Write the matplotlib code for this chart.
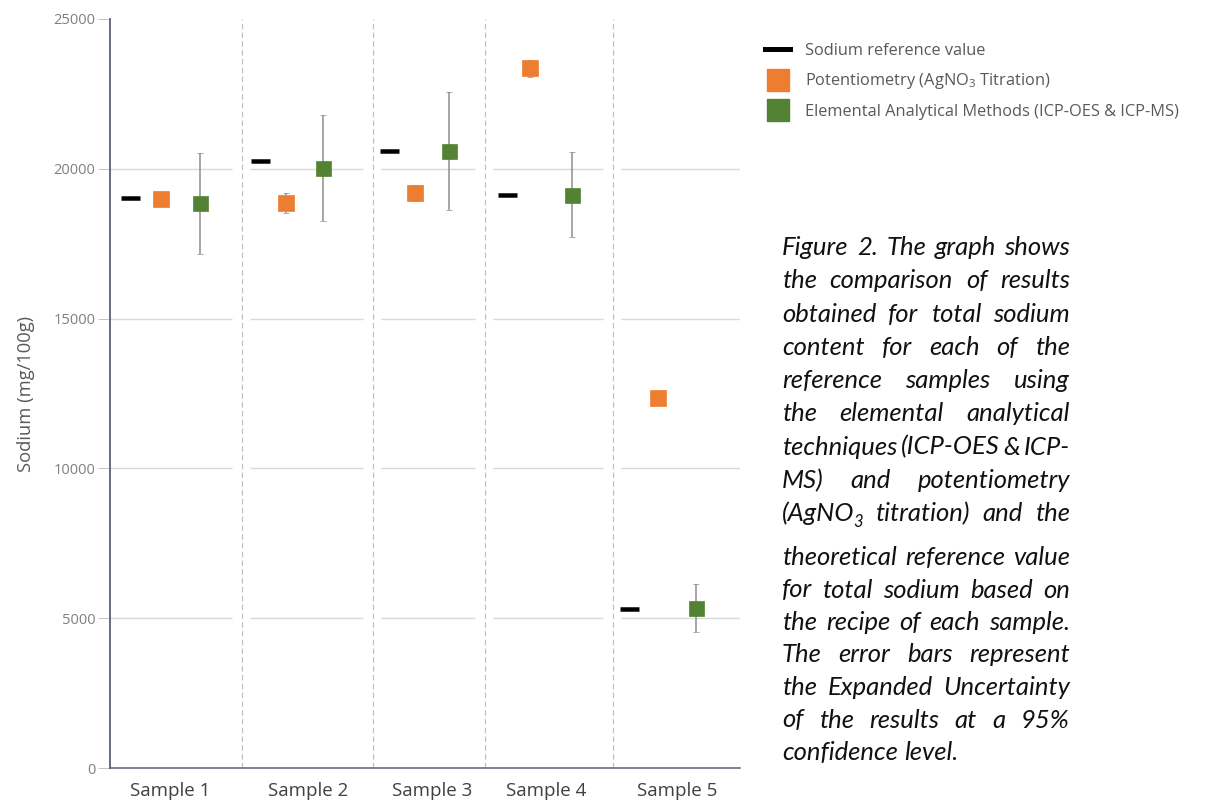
import matplotlib
matplotlib.use("Agg")
import matplotlib.pyplot as plt
from matplotlib.lines import Line2D
from matplotlib.font_manager import FontProperties

# ---------------- data ----------------
samples = ["Sample 1", "Sample 2", "Sample 3", "Sample 4", "Sample 5"]
reference_value = [19030, 20270, 20610, 19110, 5320]
potentiometry = [18990, 18860, 19200, 23360, 12350]
potentiometry_err = [200, 330, 260, 280, 150]
elemental = [18850, 20020, 20590, 19140, 5350]
elemental_err = [1680, 1760, 1980, 1420, 800]
y_ticks = [0, 5000, 10000, 15000, 20000, 25000]

legend_labels = ["Sodium reference value",
                 "Potentiometry (AgNO$_3$ Titration)",
                 "Elemental Analytical Methods (ICP-OES & ICP-MS)"]

caption_lines = [
    "Figure 2. The graph shows",
    "the comparison of results",
    "obtained for total sodium",
    "content for each of the",
    "reference samples using",
    "the elemental analytical",
    "techniques (ICP-OES & ICP-",
    "MS) and potentiometry",
    "(AgNO| titration) and the",
    "theoretical reference value",
    "for total sodium based on",
    "the recipe of each sample.",
    "The error bars represent",
    "the Expanded Uncertainty",
    "of the results at a 95%",
    "confidence level.",
]

# ---------------- layout (pixel-like x units within the axes) ----------------
W, H = 1209, 801
group_edges = [0, 132, 263, 375, 503, 630]
tick_pos = [60, 198, 322, 436, 567]
ref_off = [0.15, 0.137, 0.14, 0.17, 0.126]
pot_off = [0.386, 0.333, 0.375, 0.35, 0.354]
ele_off = [0.68, 0.62, 0.68, 0.68, 0.65]

def group_x(offsets):
    return [group_edges[i] + offsets[i] * (group_edges[i + 1] - group_edges[i])
            for i in range(len(offsets))]

plt.rcParams["font.family"] = ["Open Sans", "DejaVu Sans"]
plt.rcParams["mathtext.fontset"] = "custom"
plt.rcParams["mathtext.rm"] = "Open Sans"
plt.rcParams["mathtext.it"] = "Open Sans:italic"

fig = plt.figure(figsize=(W / 100, H / 100), dpi=100)
ax = fig.add_axes([110 / W, (H - 768) / H, (740 - 110) / W, (768 - 19) / H])
ax.set_xlim(group_edges[0], group_edges[-1])
ax.set_ylim(0, 25000)

px = 72 / 100  # points per pixel

# gridlines per group with gaps near separators
for yv in y_ticks[1:-1]:
    for i in range(len(samples)):
        x0 = group_edges[i] + (8 if i > 0 else 0)
        x1 = group_edges[i + 1] - (10 if i < len(samples) - 1 else 0)
        ax.hlines(yv, x0, x1, color="#d9d9d9", lw=1.4 * px, zorder=0)

# dashed separators
for e in group_edges[1:-1]:
    ax.axvline(e, color="#bdbdbd", lw=1.1 * px, dashes=(5, 3), zorder=0)

# reference values
ax.plot(group_x(ref_off), reference_value, ls="none", marker="_",
        ms=19 * px, mew=4.5 * px, color="black", zorder=3)
# potentiometry
ax.errorbar(group_x(pot_off), potentiometry, yerr=potentiometry_err, fmt="s",
            ms=16 * px, mfc="#ED7D31", mec="#ED7D31", mew=0.5,
            ecolor="#8c8c8c", elinewidth=1.5 * px, capsize=3 * px,
            capthick=1.5 * px, zorder=3)
# elemental
ax.errorbar(group_x(ele_off), elemental, yerr=elemental_err, fmt="s",
            ms=15 * px, mfc="#548235", mec="#548235", mew=0.5,
            ecolor="#8c8c8c", elinewidth=1.5 * px, capsize=3.3 * px,
            capthick=1.5 * px, zorder=3)

# axes styling
for s in ["top", "right"]:
    ax.spines[s].set_visible(False)
ax.spines["left"].set_color("#56606e")
ax.spines["left"].set_linewidth(1.8 * px)
ax.spines["bottom"].set_color("#56606e")
ax.spines["bottom"].set_linewidth(1.5 * px)

ax.set_yticks(y_ticks)
ax.set_yticklabels([str(v) for v in y_ticks])
ax.tick_params(axis="y", length=12 * px, width=0.9 * px, color="#bfbfbf",
               labelsize=10.5, labelcolor="#7f7f7f", pad=2)
ax.set_xticks(tick_pos)
ax.set_xticklabels(samples)
ax.tick_params(axis="x", length=0, labelsize=13.5, labelcolor="#404040", pad=10)
ax.set_ylabel("Sodium (mg/100g)", fontsize=13.2, color="#595959", labelpad=13)

# legend
handles = [
    Line2D([], [], color="black", lw=5 * px),
    Line2D([], [], ls="none", marker="s", ms=23 * px, mfc="#ED7D31", mec="#ED7D31"),
    Line2D([], [], ls="none", marker="s", ms=23 * px, mfc="#548235", mec="#548235"),
]
leg = ax.legend(handles, legend_labels, loc="upper left",
                bbox_to_anchor=(765 / W, 1 - 43 / H), bbox_transform=fig.transFigure,
                frameon=False, fontsize=11.8, handlelength=1.55, handletextpad=0.9,
                labelspacing=0.75, borderpad=0, borderaxespad=0)
for t in leg.get_texts():
    t.set_color("#595959")

# caption, justified
fig.canvas.draw()
renderer = fig.canvas.get_renderer()

def tw(s, fp):
    w, h, d = renderer.get_text_width_height_descent(s, fp, ismath=False)
    return w

base_fp = FontProperties(family="Lato", style="italic", size=10)
size = 10 * 176 / tw("confidence level.", base_fp)
fp = FontProperties(family="Lato", style="italic", size=size)
sub_fp = FontProperties(family="Lato", style="italic", size=size * 0.65)
cap_color = "#111111"
left, right = 782, 1070
baselines = [255 + 33.3 * i for i in range(9)] + [565 + 32.5 * i for i in range(7)]

for li, line in enumerate(caption_lines):
    words = line.split(" ")
    widths = []
    for wd in words:
        if "|" in wd:
            widths.append(tw(wd.replace("|", ""), fp) + tw("3", sub_fp) - 1)
        else:
            widths.append(tw(wd, fp))
    last = li == len(caption_lines) - 1
    if last or len(words) == 1:
        gap = tw(" ", fp)
    else:
        gap = (right - left - sum(widths)) / (len(words) - 1)
    x = left
    yb = 1 - baselines[li] / H
    for wd, w in zip(words, widths):
        if "|" in wd:
            main = wd.replace("|", "")
            fig.text(x / W, yb, main, fontproperties=fp, color=cap_color, va="baseline")
            xs = x + tw(main, fp) - 1
            fig.text(xs / W, yb - 6 / H, "3", fontproperties=sub_fp, color=cap_color,
                     va="baseline")
        else:
            fig.text(x / W, yb, wd, fontproperties=fp, color=cap_color, va="baseline")
        x += w + gap

fig.savefig("out.png", dpi=100)
